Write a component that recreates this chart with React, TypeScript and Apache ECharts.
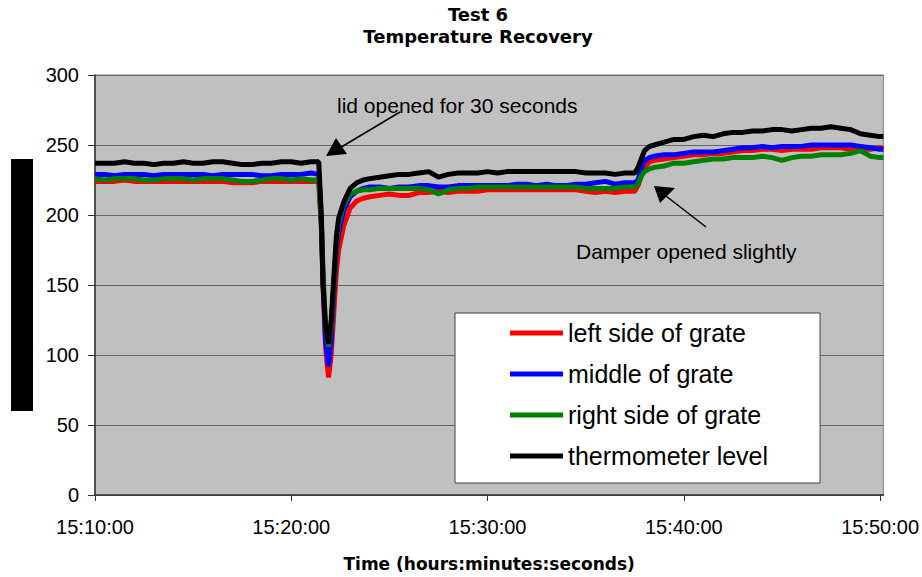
import { useEffect, useRef } from "react";
import * as echarts from "echarts";

// Sample times (hh:mm:ss)
const times: string[] = [
  "15:10:00", "15:10:30", "15:11:00", "15:11:30", "15:12:00", "15:12:30", "15:13:00", "15:13:30",
  "15:14:00", "15:14:30", "15:15:00", "15:15:30", "15:16:00", "15:16:30", "15:17:00", "15:17:30",
  "15:18:00", "15:18:30", "15:19:00", "15:19:30", "15:20:00", "15:20:30", "15:21:00",
  "15:21:24", "15:21:32", "15:21:37", "15:21:45", "15:21:54", "15:22:02", "15:22:10", "15:22:18",
  "15:22:25", "15:22:40", "15:23:00", "15:23:20", "15:23:40", "15:24:00", "15:24:30",
  "15:25:00", "15:25:30", "15:26:00", "15:26:30", "15:27:00", "15:27:30", "15:28:00", "15:28:30",
  "15:29:00", "15:29:30", "15:30:00", "15:30:30", "15:31:00", "15:31:30", "15:32:00", "15:32:30",
  "15:33:00", "15:33:30", "15:34:00", "15:34:30", "15:35:00", "15:35:30", "15:36:00", "15:36:30",
  "15:37:00", "15:37:30",
  "15:37:40", "15:37:50", "15:38:00", "15:38:15", "15:38:30", "15:39:00", "15:39:30", "15:40:00",
  "15:40:30", "15:41:00", "15:41:30", "15:42:00", "15:42:30", "15:43:00", "15:43:30", "15:44:00",
  "15:44:30", "15:45:00", "15:45:30", "15:46:00", "15:46:30", "15:47:00", "15:47:30", "15:48:00",
  "15:48:30", "15:49:00", "15:49:30", "15:50:00", "15:50:10",
];

const leftSide: number[] = [
  224, 224, 224, 225, 224, 224, 224, 224, 224, 224, 224, 224, 224, 224, 223, 223, 223, 224, 224, 224, 224, 224, 224,
  224, 190, 150, 105, 84, 100, 130, 160, 175, 192, 205, 210, 212, 213, 214,
  215, 214, 214, 216, 216, 217, 216, 217, 217, 217, 218, 218, 218, 218, 218, 218, 218, 218, 218, 218, 217, 216, 217, 216, 217, 217,
  221, 228, 234, 238, 239, 240, 241, 242, 243, 243, 244, 244, 245, 246, 246, 247, 247, 246, 247, 247, 247, 248, 248, 248, 247, 247, 247, 248, 247,
];

const middle: number[] = [
  229, 229, 228, 229, 229, 229, 228, 229, 229, 229, 229, 229, 228, 229, 229, 229, 229, 228, 228, 229, 229, 229, 230,
  229, 195, 155, 110, 92, 110, 145, 175, 188, 203, 213, 217, 219, 220, 220,
  219, 220, 220, 221, 221, 220, 220, 221, 221, 221, 221, 221, 221, 222, 222, 221, 222, 221, 221, 222, 222, 223, 224, 222, 223, 223,
  225, 233, 239, 241, 242, 243, 243, 244, 245, 245, 245, 246, 247, 248, 248, 249, 248, 249, 249, 249, 250, 250, 250, 250, 250, 249, 248, 247, 247,
];

const rightSide: number[] = [
  226, 225, 226, 226, 226, 225, 225, 226, 226, 226, 225, 226, 226, 226, 225, 224, 224, 225, 226, 226, 225, 226, 225,
  225, 195, 160, 120, 106, 120, 150, 180, 194, 207, 215, 217, 218, 218, 219,
  219, 219, 219, 219, 218, 215, 218, 219, 219, 220, 220, 220, 220, 220, 220, 220, 220, 220, 220, 220, 219, 219, 219, 219, 220, 220,
  222, 228, 231, 233, 234, 235, 237, 237, 238, 239, 240, 240, 241, 241, 241, 242, 241, 239, 241, 242, 242, 243, 243, 243, 244, 246, 242, 241, 241,
];

const thermometer: number[] = [
  237, 237, 237, 238, 237, 237, 236, 237, 237, 238, 237, 237, 238, 238, 237, 236, 236, 237, 237, 238, 238, 237, 238,
  238, 200, 150, 120, 108, 125, 155, 185, 198, 209, 219, 223, 225, 226, 227,
  228, 229, 229, 230, 231, 227, 229, 230, 230, 230, 231, 230, 231, 231, 231, 231, 231, 231, 231, 231, 230, 230, 230, 229, 230, 230,
  234, 240, 246, 249, 250, 252, 254, 254, 256, 257, 256, 258, 259, 259, 260, 260, 261, 261, 260, 261, 262, 262, 263, 262, 261, 258, 257, 256, 256,
];

const seriesNames = ["left side of grate", "middle of grate", "right side of grate", "thermometer level"];
const seriesColors = ["#FF0000", "#0000FF", "#008000", "#000000"];
const xTickLabels = ["15:10:00", "15:20:00", "15:30:00", "15:40:00", "15:50:00"];
const xEnd = "15:50:10";
const yMin = 0;
const yMax = 300;
const yStep = 50;

const titleText = "Test 6\nTemperature Recovery";
const xAxisTitle = "Time (hours:minutes:seconds)";
const noteLid = "lid opened for 30 seconds";
const noteDamper = "Damper opened slightly";

function toSec(t: string): number {
  const [h, m, s] = t.split(":").map(Number);
  return h * 3600 + m * 60 + s;
}
const START = toSec(xTickLabels[0]);

function fmt(v: number): string {
  const t = START + Math.round(v);
  const h = Math.floor(t / 3600);
  const m = Math.floor((t % 3600) / 60);
  const s = t % 60;
  const p = (n: number) => String(n).padStart(2, "0");
  return `${h}:${p(m)}:${p(s)}`;
}

export default function App() {
  const ref = useRef<HTMLDivElement>(null);

  useEffect(() => {
    if (!ref.current) return;
    const chart = echarts.init(ref.current, undefined, { renderer: "svg" });
    const allSeries = [leftSide, middle, rightSide, thermometer];
    const font = "Liberation Sans";

    chart.setOption({
      animation: false,
      textStyle: { fontFamily: font },
      title: {
        text: titleText,
        left: 478,
        top: 3,
        textAlign: "center",
        padding: 0,
        textStyle: {
          fontFamily: "DejaVu Sans",
          fontWeight: "bold",
          fontSize: 18,
          lineHeight: 22,
          color: "#000",
        },
      },
      legend: {
        orient: "vertical",
        left: 455,
        top: 313,
        padding: [6, 52, 13, 55],
        itemWidth: 53,
        itemHeight: 5,
        itemGap: 13,
        icon: "rect",
        backgroundColor: "#ffffff",
        borderColor: "#404040",
        borderWidth: 1,
        selectedMode: false,
        data: seriesNames,
        textStyle: { fontSize: 25, fontFamily: font, color: "#000", lineHeight: 28 },
      },
      grid: {
        left: 95,
        right: 37,
        top: 75,
        bottom: 81,
        show: true,
        backgroundColor: "#C0C0C0",
        borderColor: "#808080",
        borderWidth: 1,
      },
      xAxis: {
        type: "value",
        min: 0,
        max: toSec(xEnd) - START,
        interval: 600,
        name: xAxisTitle,
        nameLocation: "middle",
        nameGap: 60,
        nameTextStyle: {
          fontFamily: "DejaVu Sans",
          fontWeight: "bold",
          fontSize: 17,
          color: "#000",
        },
        axisLine: { show: true, lineStyle: { color: "#333", width: 1.5 } },
        axisTick: {
          show: true,
          length: 6,
          lineStyle: { color: "#333" },
          customValues: xTickLabels.map((t) => toSec(t) - START),
        },
        axisLabel: {
          fontSize: 20,
          fontFamily: font,
          color: "#000",
          margin: 22,
          customValues: xTickLabels.map((t) => toSec(t) - START),
          formatter: (v: number) => fmt(v),
        },
        splitLine: { show: false },
      },
      yAxis: {
        type: "value",
        min: yMin,
        max: yMax,
        interval: yStep,
        axisLine: { show: true, lineStyle: { color: "#333", width: 1.5 } },
        axisTick: { show: true, length: 7, lineStyle: { color: "#333" } },
        axisLabel: { fontSize: 20, fontFamily: font, color: "#000", margin: 16 },
        splitLine: { show: true, lineStyle: { color: "#666", width: 1 } },
      },
      series: allSeries.map((vals, i) => ({
        name: seriesNames[i],
        type: "line",
        data: times.map((t, k) => [toSec(t) - START, vals[k]]),
        showSymbol: false,
        symbol: "none",
        silent: true,
        color: seriesColors[i],
        itemStyle: { color: seriesColors[i] },
        lineStyle: { color: seriesColors[i], width: 5 },
        emphasis: { disabled: true },
        z: 2 + i,
      })),
      graphic: [
        {
          type: "rect",
          shape: { x: 11, y: 159, width: 22, height: 252 },
          style: { fill: "#000" },
        },
        {
          type: "text",
          z: 100,
          style: {
            text: noteLid,
            x: 337,
            y: 105,
            fontSize: 21,
            fontFamily: font,
            fill: "#000",
            verticalAlign: "middle",
          },
        },
        {
          type: "line",
          z: 100,
          shape: { x1: 400, y1: 112, x2: 338, y2: 149 },
          style: { stroke: "#000", lineWidth: 1.5 },
        },
        {
          type: "polygon",
          z: 100,
          shape: { points: [[326, 156], [336, 138], [347, 154]] },
          style: { fill: "#000" },
        },
        {
          type: "text",
          z: 100,
          style: {
            text: noteDamper,
            x: 576,
            y: 251,
            fontSize: 21,
            fontFamily: font,
            fill: "#000",
            verticalAlign: "middle",
          },
        },
        {
          type: "line",
          z: 100,
          shape: { x1: 706, y1: 227, x2: 666, y2: 196 },
          style: { stroke: "#000", lineWidth: 1.5 },
        },
        {
          type: "polygon",
          z: 100,
          shape: { points: [[654, 186], [660, 203], [675, 188]] },
          style: { fill: "#000" },
        },
      ],
    });

    return () => chart.dispose();
  }, []);

  return (
    <div
      ref={ref}
      style={{ position: "fixed", left: 0, top: 0, width: 922, height: 577, background: "#fff" }}
    />
  );
}
